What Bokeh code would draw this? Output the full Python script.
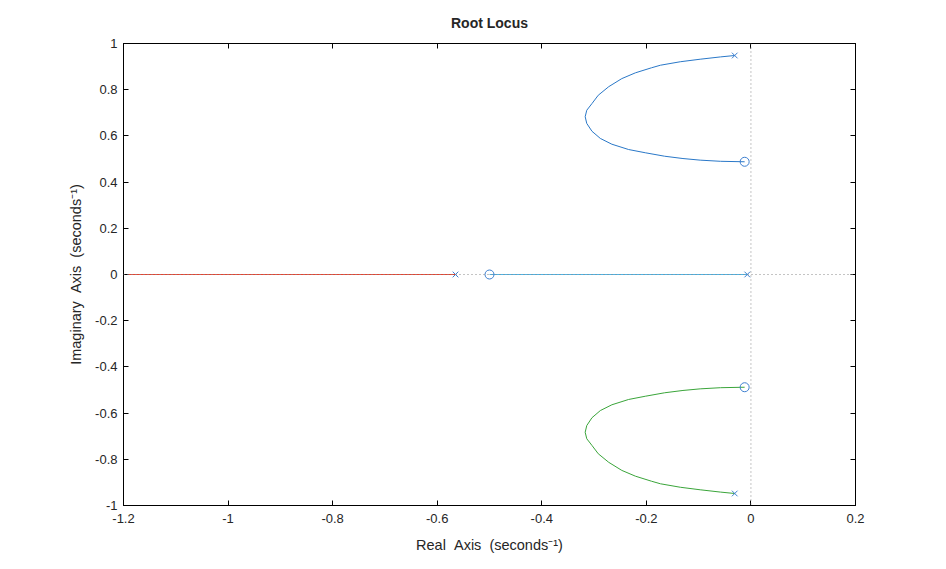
from bokeh.plotting import figure
from bokeh.models import Range1d, LinearAxis, FixedTicker, CustomJSTickFormatter, Span
from bokeh.embed import file_html
from bokeh.resources import INLINE

# ---- data ----
x_ticks = [-1.2, -1.0, -0.8, -0.6, -0.4, -0.2, 0.0, 0.2]
y_ticks = [-1.0, -0.8, -0.6, -0.4, -0.2, 0.0, 0.2, 0.4, 0.6, 0.8, 1.0]

poles_x = [-0.031, -0.031, -0.565, -0.007]
poles_y = [0.948, -0.948, 0.0, 0.0]
zeros_x = [-0.012, -0.012, -0.5]
zeros_y = [0.488, -0.488, 0.0]

upper_x = [-0.031, -0.058, -0.097, -0.135, -0.173, -0.190, -0.221, -0.247, -0.272,
           -0.292, -0.304, -0.314, -0.317, -0.314, -0.304, -0.288, -0.266, -0.234,
           -0.202, -0.165, -0.130, -0.097, -0.058, -0.012]
upper_y = [0.948, 0.942, 0.932, 0.921, 0.906, 0.895, 0.873, 0.848, 0.813,
           0.776, 0.740, 0.711, 0.683, 0.654, 0.620, 0.589, 0.564, 0.541,
           0.527, 0.512, 0.502, 0.495, 0.490, 0.488]
lower_x = upper_x
lower_y = [-v for v in upper_y]

red_x = [-1.25, -0.565]
red_y = [0.0, 0.0]
cyan_x = [-0.5, -0.007]
cyan_y = [0.0, 0.0]

FONT = "Liberation Sans"
TXT = "#262626"
SP = "\u00a0"

p = figure(width=930, height=558, output_backend="svg", toolbar_location=None,
           x_range=Range1d(-1.2, 0.2), y_range=Range1d(-1, 1),
           min_border_left=123, min_border_right=75, min_border_top=43, min_border_bottom=53,
           title="Root Locus")
p.title.align = "center"
p.title.vertical_align = "top"
p.title.text_font = FONT
p.title.text_font_size = "14px"
p.title.text_font_style = "bold"
p.title.text_color = TXT
p.title.standoff = 21
p.grid.visible = False
p.outline_line_color = "black"
p.outline_line_alpha = 1.0

fmt = CustomJSTickFormatter(code="return String(Number(tick.toFixed(2)));")

for ax, ticks in ((p.xaxis[0], x_ticks), (p.yaxis[0], y_ticks)):
    ax.ticker = FixedTicker(ticks=ticks)
    ax.formatter = fmt
    ax.major_tick_in = 5
    ax.major_tick_out = 0
    ax.minor_tick_line_color = None
    ax.axis_line_color = "black"
    ax.major_tick_line_color = "black"
    ax.major_label_text_font = FONT
    ax.major_label_text_font_size = "13px"
    ax.major_label_text_color = TXT
    ax.axis_label_text_font = FONT
    ax.axis_label_text_font_size = "14.5px"
    ax.axis_label_text_font_style = "normal"
    ax.axis_label_text_color = TXT

p.xaxis[0].axis_label = "Real" + SP + SP + "Axis" + SP + SP + "(seconds\u207b\u00b9)"
p.yaxis[0].axis_label = "Imaginary" + SP + SP + "Axis" + SP + SP + "(seconds\u207b\u00b9)"
p.xaxis[0].major_label_standoff = 8
p.yaxis[0].major_label_standoff = 6
p.xaxis[0].axis_label_standoff = 11
p.yaxis[0].axis_label_standoff = 8

for loc, ticks in (("above", x_ticks), ("right", y_ticks)):
    ax = LinearAxis(ticker=FixedTicker(ticks=ticks), major_tick_in=5, major_tick_out=0,
                    minor_tick_line_color=None, major_label_text_color=None,
                    major_label_text_font_size="1px",
                    major_label_standoff=0, axis_line_color="black",
                    major_tick_line_color="black")
    p.add_layout(ax, loc)

# dotted reference lines
p.add_layout(Span(location=0, dimension="width", line_color="#888888", line_dash="1 3", line_width=1))
p.add_layout(Span(location=0, dimension="height", line_color="#888888", line_dash="1 3", line_width=1))

# branches
p.line(red_x, red_y, line_color="#e8432e", line_width=1.1)
p.line(cyan_x, cyan_y, line_color="#4cb3e6", line_width=1.1)
p.line(upper_x, upper_y, line_color="#2a78c8", line_width=1)
p.line(lower_x, lower_y, line_color="#3aa53a", line_width=1)

# poles and zeros
p.scatter(poles_x, poles_y, marker="x", size=8, line_color="#3d7fd0", line_width=1)
p.scatter(zeros_x, zeros_y, marker="circle", size=9, line_color="#3d7fd0",
          fill_color=None, line_width=1)

open("out.html", "w").write(file_html(p, INLINE))
